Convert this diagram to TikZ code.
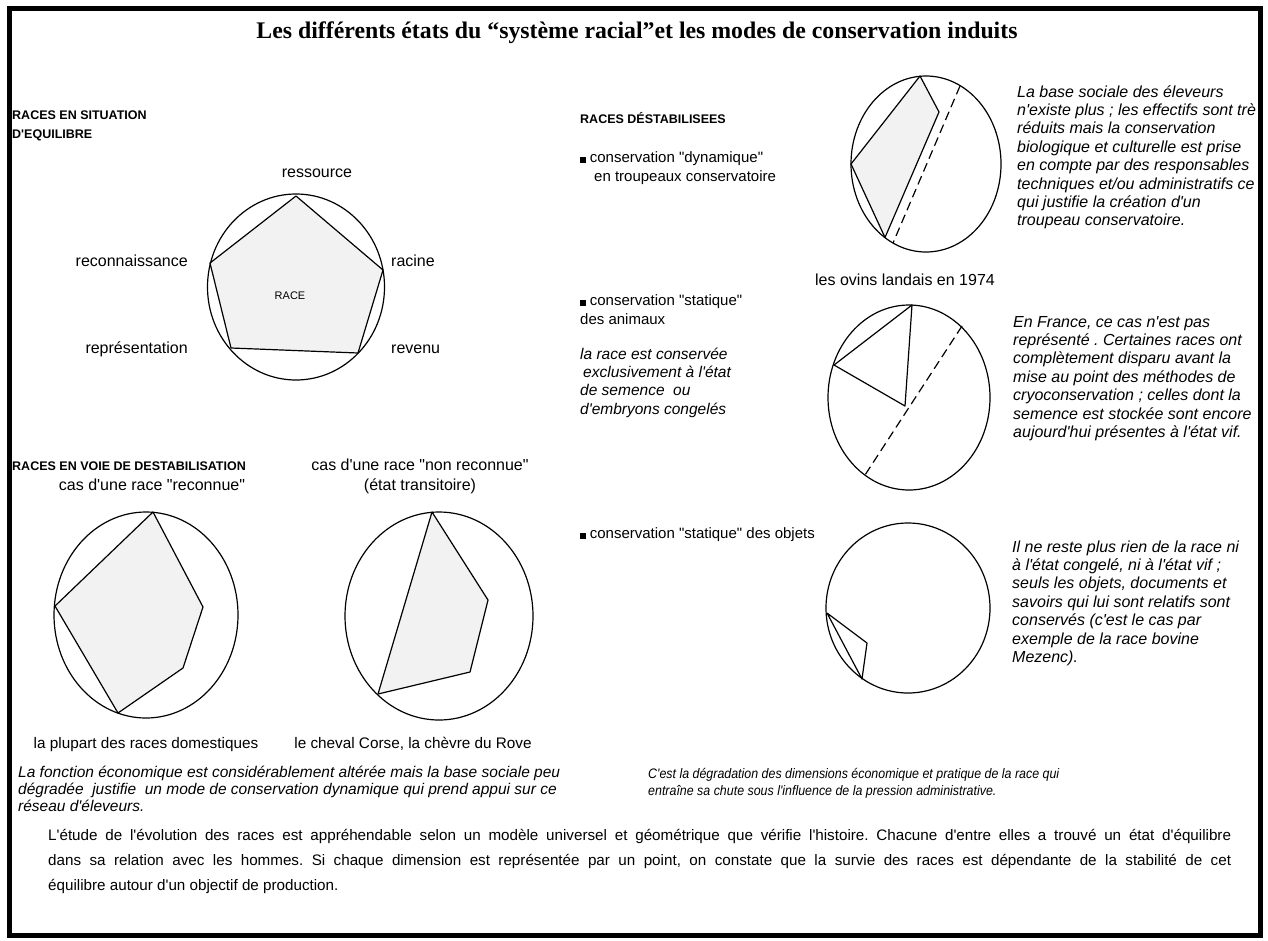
\documentclass[tikz,border=0pt]{standalone}
\usepackage{fontspec}
\setmainfont{Liberation Sans}[Ligatures=TeXOff]
\newfontfamily\titlefont{Liberation Serif}
\newfontfamily\narrowfont[FakeStretch=0.9,Ligatures=TeXOff]{Liberation Sans}
\begin{document}
\frenchspacing
\begin{tikzpicture}[x=1pt,y=-1pt,
  lbl/.style={inner sep=0pt, font=\fontsize{16}{19}\selectfont},
  head/.style={inner sep=0pt, anchor=mid west, font=\fontsize{12.5}{15}\selectfont\bfseries},
  itemtxt/.style={inner sep=0pt, anchor=mid west, font=\fontsize{15}{19}\selectfont},
  paratxt/.style={inner sep=0pt, anchor=north west, align=left, font=\fontsize{16}{18.4}\selectfont\itshape},
  captxt/.style={inner sep=0pt, anchor=north west, align=left},
  bodytxt/.style={inner sep=0pt, anchor=mid west, font=\fontsize{15.2}{17}\selectfont},
  ring/.style={line width=1.2pt},
  poly/.style={line width=1.2pt, line join=round, fill=black!5},
  polyw/.style={line width=1.2pt, line join=round},
  cutline/.style={line width=1.2pt, dash pattern=on 9pt off 5pt},
]
\useasboundingbox (0,0) rectangle (1268,940);
\fill[white] (0,0) rectangle (1268,940);

% title
\node[inner sep=0pt, font=\titlefont\fontsize{23.8}{28}\selectfont\bfseries] (title) at (637,33)
  {Les différents états du “système racial”et les modes de conservation induits};

% ---------- equilibrium ----------
\node[head] (h1) at (12,117) {RACES EN SITUATION};
\node[head] (h1b) at (12,136) {D'EQUILIBRE};
\coordinate (c1) at (296,287);
\filldraw[poly] (296,196) -- (383,270) -- (358,353) -- (231,348) -- (210,263) -- cycle;
\draw[ring] (c1) ellipse [x radius=88.5, y radius=93];
\node[lbl, anchor=mid] (res) at (317,175) {ressource};
\node[lbl, anchor=mid east] (rec) at (188,264) {reconnaissance};
\node[lbl, anchor=mid west] (rac) at (391,264) {racine};
\node[lbl, anchor=mid east] (rep) at (188,351) {représentation};
\node[lbl, anchor=mid west] (rev) at (391,351) {revenu};
\node[inner sep=0pt, font=\fontsize{11}{13}\selectfont] (race) at (290,296) {RACE};

% ---------- destabilisation ----------
\node[head] (h2) at (12,468) {RACES EN VOIE DE DESTABILISATION};
\node[lbl, anchor=mid] (t2) at (152,488) {cas d'une race "reconnue"};
\node[lbl, anchor=mid] (t3a) at (420,468) {cas d'une race "non reconnue"};
\node[lbl, anchor=mid] (t3b) at (420,488) {(état transitoire)};
\coordinate (c2) at (146,615);
\filldraw[poly] (153,512) -- (203,607) -- (183,668) -- (118,713) -- (55,606) -- cycle;
\draw[ring] (c2) ellipse [x radius=92, y radius=103];
\coordinate (c3) at (439,616);
\filldraw[poly] (432,512) -- (488,600) -- (470,672) -- (378,694) -- cycle;
\draw[ring] (c3) ellipse [x radius=94, y radius=104];
\node[lbl, anchor=mid, font=\fontsize{15.3}{18}\selectfont] (b2) at (146,746) {la plupart des races domestiques};
\node[lbl, anchor=mid, font=\fontsize{15.3}{18}\selectfont] (b3) at (413,746) {le cheval Corse, la chèvre du Rove};

\node[captxt, font=\fontsize{15.5}{17}\selectfont\itshape] (cap1) at (18,765) {\strut La fonction économique est considérablement altérée mais la base sociale peu\\
dégradée\ \ justifie\ \ un mode de conservation dynamique qui prend appui sur ce\\
réseau d'éleveurs.};
\node[captxt, font=\narrowfont\fontsize{13.8}{17}\selectfont\itshape] (cap2) at (648,766) {\strut C'est la dégradation des dimensions économique et pratique de la race qui\\
entraîne sa chute sous l'influence de la pression administrative.};

% ---------- destabilised ----------
\node[head] (h3) at (580,121) {RACES DÉSTABILISEES};
\node[itemtxt] (i1) at (580,160) {\rule{5.5pt}{5.5pt} conservation "dynamique"};
\node[itemtxt] (i1b) at (594,179) {en troupeaux conservatoire};
\coordinate (c4) at (926,164);
\filldraw[poly] (920,76) -- (939,112) -- (885,237.5) -- (851,164) -- cycle;
\draw[ring] (c4) ellipse [x radius=75, y radius=88];
\draw[cutline] (960,86) -- (893,243);
\node[lbl, anchor=mid] (ov) at (905,283) {les ovins landais en 1974};

\node[itemtxt] (i2) at (580,303) {\rule{5.5pt}{5.5pt} conservation "statique"};
\node[itemtxt] (i2b) at (580,322) {des animaux};
\node[paratxt, font=\fontsize{15.5}{18.4}\selectfont\itshape] (pa) at (580,346) {\strut la race est conservée\\
\hspace*{3pt}exclusivement à l'état\\
de semence\ \ ou\\
d'embryons congelés};
\coordinate (c5) at (909,397.5);
\draw[polyw] (912,305) -- (905,406) -- (834,365) -- cycle;
\draw[ring] (c5) ellipse [x radius=81, y radius=92.5];
\draw[cutline] (962,326) -- (865,475);

\node[itemtxt] (i3) at (580,536) {\rule{5.5pt}{5.5pt} conservation "statique" des objets};
\coordinate (c6) at (908,608);
\draw[polyw] (827,613) -- (867,643) -- (862,679) -- cycle;
\draw[ring] (c6) ellipse [x radius=82, y radius=85];

\begin{scope}
\clip (12,11) rectangle (1255,932);
\node[paratxt] (p4) at (1017,84) {\strut La base sociale des éleveurs\\
n'existe plus ; les effectifs sont très\\
réduits mais la conservation\\
biologique et culturelle est prise\\
en compte par des responsables\\
techniques et/ou administratifs ce\\
qui justifie la création d'un\\
troupeau conservatoire.};
\end{scope}
\node[paratxt] (p5) at (1013,314) {\strut En France, ce cas n'est pas\\
représenté . Certaines races ont\\
complètement disparu avant la\\
mise au point des méthodes de\\
cryoconservation ; celles dont la\\
semence est stockée sont encore\\
aujourd'hui présentes à l'état vif.};
\node[paratxt] (p6) at (1012,539) {\strut Il ne reste plus rien de la race ni\\
à l'état congelé, ni à l'état vif ;\\
seuls les objets, documents et\\
savoirs qui lui sont relatifs sont\\
conservés (c'est le cas par\\
exemple de la race bovine\\
Mezenc).};

% ---------- bottom paragraph ----------
\node[bodytxt] (s1) at (48,838) {\makebox[1183pt][s]{L'étude de l'évolution des races est appréhendable selon un modèle universel et géométrique que vérifie l'histoire. Chacune d'entre elles a trouvé un état d'équilibre}};
\node[bodytxt] (s2) at (48,863) {\makebox[1183pt][s]{dans sa relation avec les hommes. Si chaque dimension est représentée par un point, on constate que la survie des races est dépendante de la stabilité de cet}};
\node[bodytxt] (s3) at (48,888) {équilibre autour d'un objectif de production.};

% frame
\draw[line width=5pt] (9.5,8.5) rectangle (1260.5,935);
\end{tikzpicture}
\end{document}
